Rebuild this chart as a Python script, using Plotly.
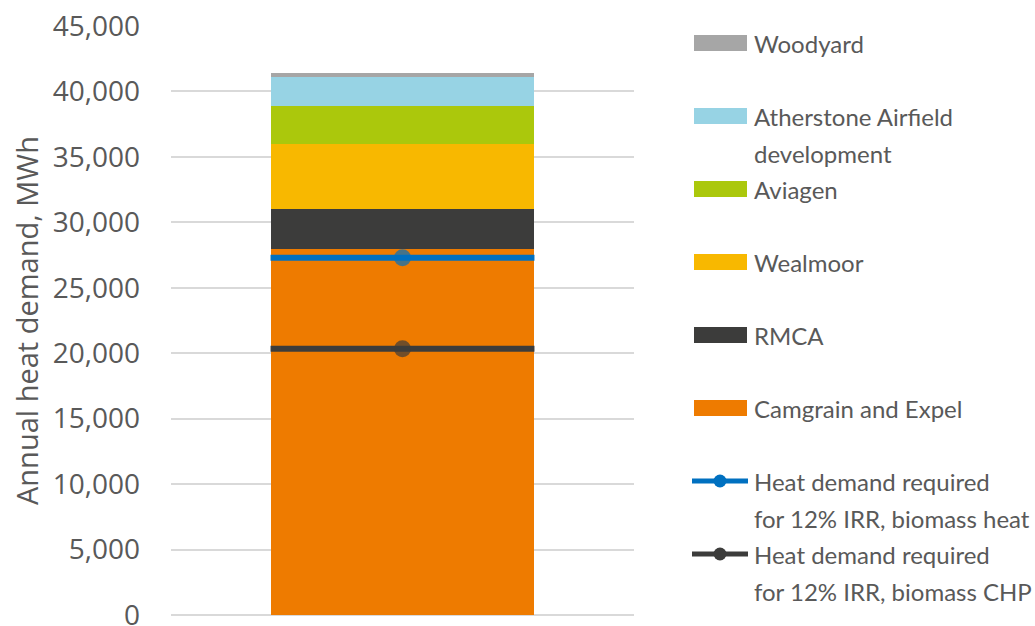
import plotly.graph_objects as go

# ---- data ----
series_names = ["Camgrain and Expel", "RMCA", "Wealmoor", "Aviagen",
                "Atherstone Airfield\ndevelopment", "Woodyard"]
series_values = [28000, 3000, 4950, 2950, 2200, 300]
series_colors = ["#EE7B00", "#3C3C3B", "#F8B800", "#ABC80C", "#97D3E4", "#A6A6A6"]

line_names = ["Heat demand required\nfor 12% IRR, biomass heat",
              "Heat demand required\nfor 12% IRR, biomass CHP"]
line_values = [27300, 20350]
line_colors = ["#0070C0", "#3C3C3B"]

y_ticks = [0, 5000, 10000, 15000, 20000, 25000, 30000, 35000, 40000, 45000]
y_title = "Annual heat demand, MWh"

LEG_FONT = "Lato"
AX_FONT = "Open Sans"
TXT = "#595959"
BAR_W = 0.57

# plot area in pixels
W, H = 1035, 626
L, R, T, B = 171, 634, 26, 615
PW, PH = R - L, B - T


def px(x):
    return (x - L) / PW


def py(y):
    return 1 - (y - T) / PH


fig = go.Figure()
for name, val, col in zip(series_names, series_values, series_colors):
    fig.add_trace(go.Bar(x=[0], y=[val], width=BAR_W, name=name.replace("\n", " "),
                         marker=dict(color=col, line=dict(width=0)),
                         showlegend=False))
for name, val, col in zip(line_names, line_values, line_colors):
    fig.add_trace(go.Scatter(x=[-BAR_W / 2, 0, BAR_W / 2], y=[val, val, val],
                             mode="lines+markers", name=name.replace("\n", " "),
                             line=dict(color=col, width=6),
                             marker=dict(color=col, size=[0, 17, 0], line=dict(width=0)),
                             showlegend=False))

# ---- manual legend (top to bottom: reversed bars, then lines) ----
legend_items = [(n, c, "bar") for n, c in zip(series_names[::-1], series_colors[::-1])]
legend_items += [(n, c, "line") for n, c in zip(line_names, line_colors)]
slot0, slot_step, line_step = 43, 73, 37
for i, (name, col, kind) in enumerate(legend_items):
    yc = slot0 + i * slot_step
    if kind == "bar":
        fig.add_shape(type="rect", xref="paper", yref="paper",
                      x0=px(694), x1=px(747), y0=py(yc - 8), y1=py(yc + 8),
                      fillcolor=col, line=dict(width=0), layer="above")
    else:
        fig.add_shape(type="line", xref="paper", yref="paper",
                      x0=px(692), x1=px(748), y0=py(yc), y1=py(yc),
                      line=dict(color=col, width=5), layer="above")
        fig.add_shape(type="circle", xref="paper", yref="paper",
                      x0=px(713.5), x1=px(726.5), y0=py(yc - 6.5), y1=py(yc + 6.5),
                      fillcolor=col, line=dict(width=0), layer="above")
    for k, txt in enumerate(name.split("\n")):
        fig.add_annotation(xref="paper", yref="paper",
                           x=px(752), y=py(yc + k * line_step),
                           text=txt, showarrow=False, xanchor="left", yanchor="middle",
                           font=dict(family=LEG_FONT, size=24, color=TXT))

# y-axis title
fig.add_annotation(xref="paper", yref="paper", x=px(26), y=py(321),
                   text=y_title, textangle=-90, showarrow=False,
                   xanchor="center", yanchor="middle",
                   font=dict(family=AX_FONT, size=29, color=TXT))

fig.update_layout(
    width=W, height=H,
    margin=dict(l=L, r=W - R, t=T, b=H - B, pad=0),
    paper_bgcolor="white", plot_bgcolor="white",
    barmode="stack", bargap=0,
    showlegend=False,
    font=dict(family=AX_FONT, color=TXT),
    xaxis=dict(range=[-0.5, 0.5], showticklabels=False, showgrid=False,
               zeroline=False, showline=False, fixedrange=True),
    yaxis=dict(range=[0, 45000], tickvals=y_ticks, tickformat=",d",
               showgrid=True, gridcolor="#D9D9D9", gridwidth=1.5,
               zeroline=True, zerolinecolor="#D9D9D9", zerolinewidth=1.5,
               showline=False, ticklabelstandoff=30, ticklabeloverflow="allow",
               tickfont=dict(family=AX_FONT, size=28, color=TXT),
               automargin=False),
)

fig.write_html("out.html")
